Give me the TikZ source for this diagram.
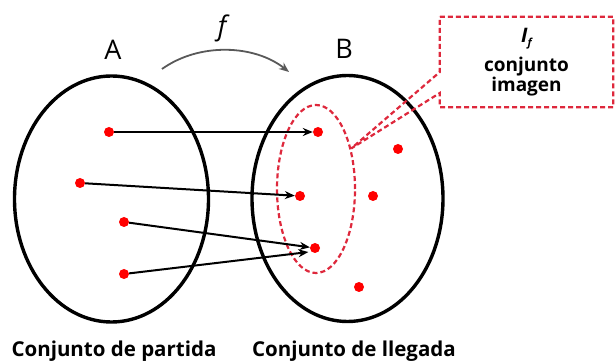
\documentclass[tikz,border=0pt]{standalone}
\usepackage{fontspec}
\setmainfont{Open Sans}
\usetikzlibrary{shapes,arrows,arrows.meta,positioning,calc}

\definecolor{imgred}{RGB}{222,40,60}

\begin{document}
\begin{tikzpicture}[
    x=1pt, y=-1pt,
    conj/.style={ellipse, draw, line width=3.4pt, minimum width=194pt, minimum height=246pt, inner sep=0pt},
    imgset/.style={ellipse, draw=imgred, line width=2.2pt, dash pattern=on 5pt off 3pt, minimum width=78pt, minimum height=168pt, inner sep=0pt},
    dot/.style={circle, fill=red, inner sep=0pt, minimum size=10pt},
    arrow/.style={-{Stealth[length=10pt,width=8pt]}, line width=2pt},
    farrow/.style={-{Stealth[length=10pt,width=8pt]}, line width=1.8pt, draw=black!65},
    setname/.style={inner sep=0pt, font=\fontsize{27}{29}\selectfont},
    caption/.style={inner sep=0pt, font=\bfseries\fontsize{20.5}{22}\selectfont},
    callout/.style={draw=imgred, line width=2.2pt, dash pattern=on 5pt off 3pt}
]
\useasboundingbox (0,0) rectangle (616,363);

% Sets
\node[conj] (setA) at (111.5,199) {};
\node[conj, minimum width=191pt] (setB) at (347.5,198.5) {};

% Set names
\node[setname] (labA) at (113,50) {A};
\node[setname] (labB) at (344,49) {B};

% Elements of A
\node[dot] (a1) at (109,132) {};
\node[dot] (a2) at (80,183) {};
\node[dot] (a3) at (124,222) {};
\node[dot] (a4) at (124,274) {};

% Elements of B
\node[dot] (b1) at (318,132) {};
\node[dot] (b2) at (300,196) {};
\node[dot] (b3) at (315,248) {};
\node[dot] (b4) at (398,149) {};
\node[dot] (b5) at (373,196) {};
\node[dot] (b6) at (359,287) {};

% Image set
\node[imgset] (img) at (316,189) {};

% Arrows
\draw[arrow] (a1) -- (b1);
\draw[arrow] (a2) -- (b2);
\draw[arrow] (a3) -- (b3);
\draw[arrow, shorten >=3pt] (a4) -- (b3.south west);

% Function f
\coordinate (fstart) at (162,69);
\coordinate (fend) at (289,72);
\draw[farrow] (fstart) .. controls (200,42) and (255,45) .. (fend);
\node[inner sep=0pt, font=\itshape\fontsize{27}{29}\selectfont] (flab) at (222,28) {f};

% Callout
\node[minimum width=173pt, minimum height=90pt, inner sep=0pt, align=center,
      font=\bfseries\fontsize{19}{20}\selectfont] (imgbox) at (526.5,62)
      {{\fontsize{20}{20}\selectfont\itshape I}\raisebox{-4pt}{\fontsize{11}{11}\selectfont\itshape f}\\[7pt]conjunto\\imagen};
\coordinate (tip) at (img.49);
\draw[callout] (imgbox.north west) -- (imgbox.north east) -- (imgbox.south east)
    -- (imgbox.south west) -- ($(imgbox.west)+(0,31)$) -- (tip)
    -- ($(imgbox.west)+(0,10)$) -- cycle;

% Captions
\node[caption] (capA) at (114,351) {Conjunto de partida};
\node[caption] (capB) at (354,351) {Conjunto de llegada};

\end{tikzpicture}
\end{document}
